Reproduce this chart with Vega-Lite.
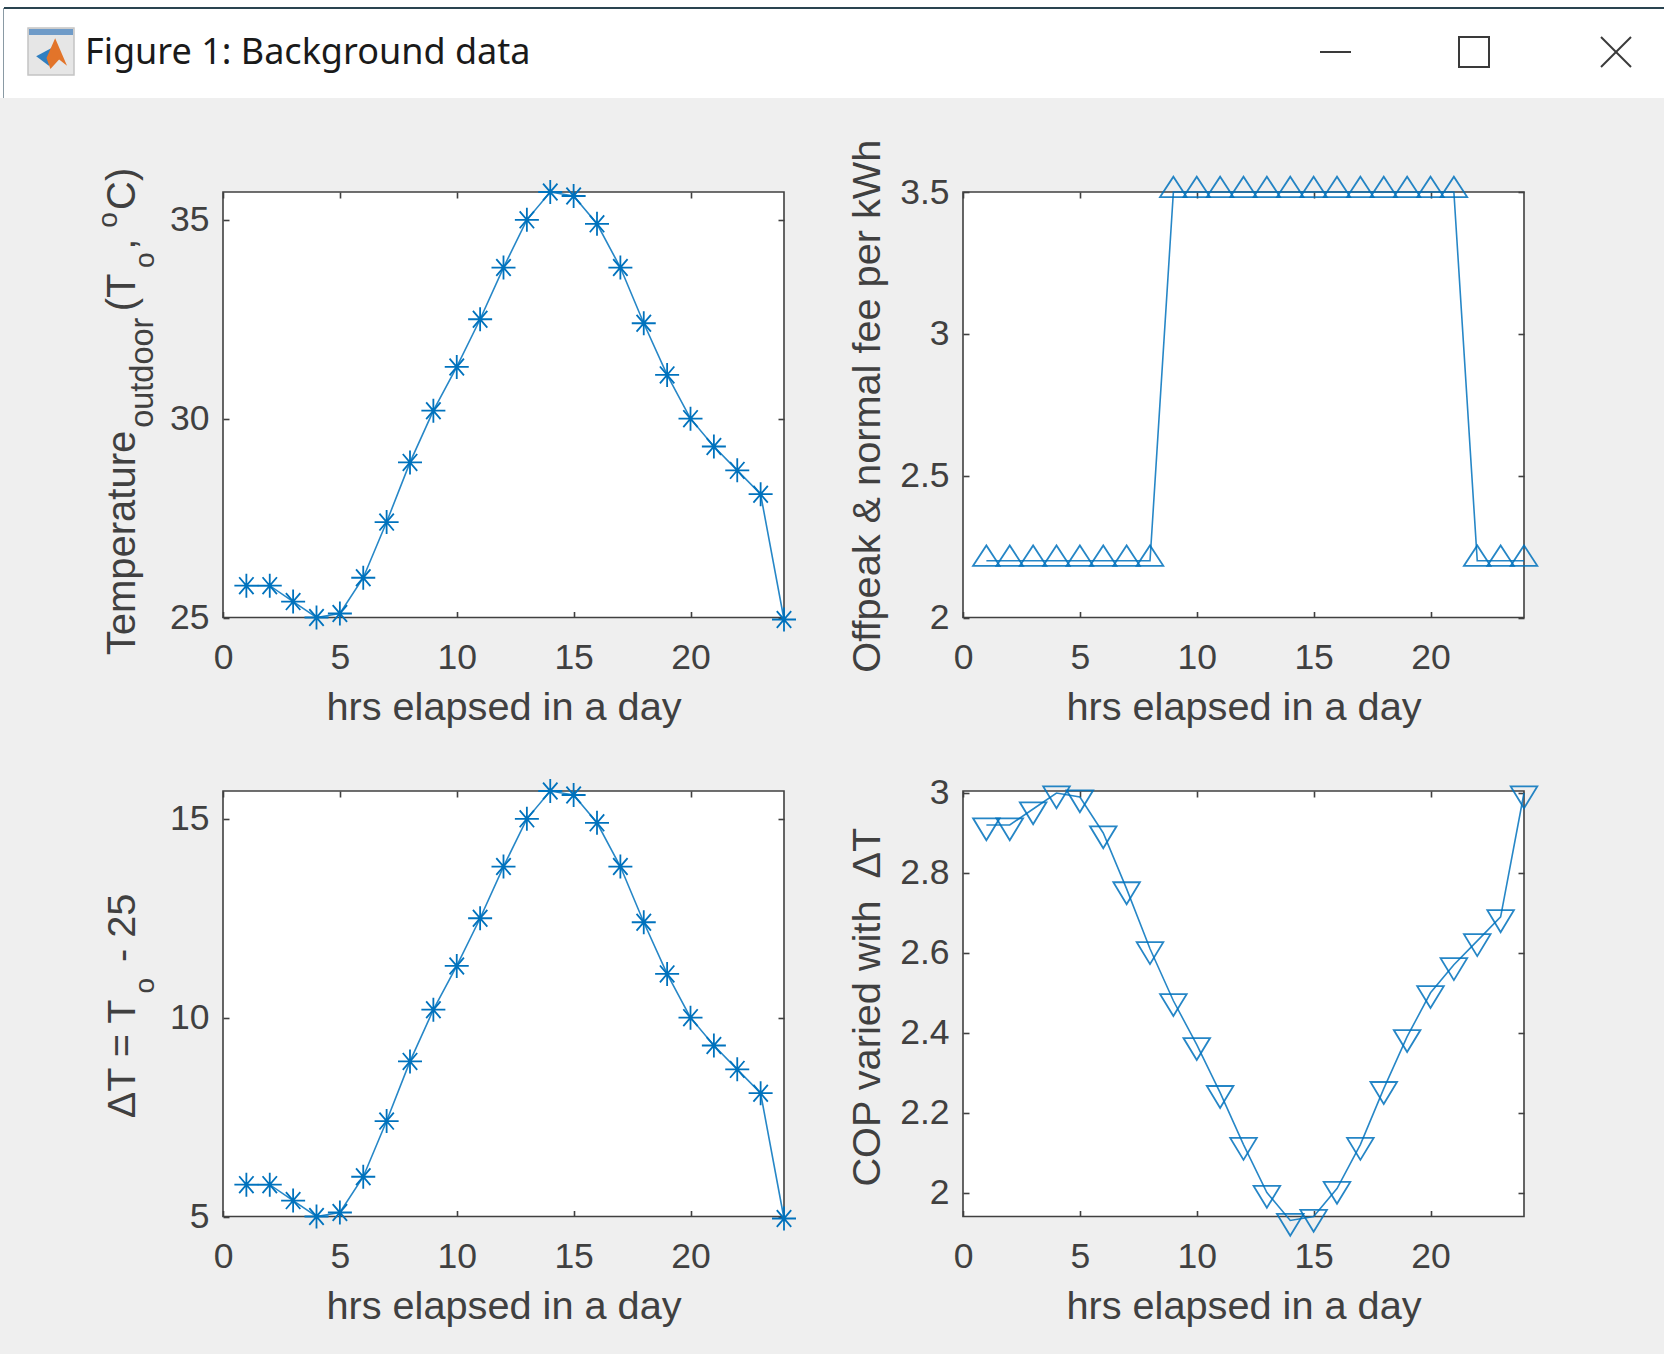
{"$schema":"https://vega.github.io/schema/vega-lite/v6.json","background":"#efefef","padding":0,"spacing":0,
"config":{"view":{"fill":"white","stroke":"#404040","strokeWidth":1.6},
"axis":{"grid":false,"domain":false,"labelFont":"Liberation Sans","labelFontSize":35.5,"labelColor":"#404040","titleFont":"Liberation Sans","titleFontSize":39.7,"titleFontWeight":"normal","titleColor":"#404040","tickColor":"#404040","tickWidth":1.6,"tickSize":-6,"labelFlush":false,"labelOverlap":false}},
"datasets":{
"temp":[{"hour":1,"value":25.8},{"hour":2,"value":25.8},{"hour":3,"value":25.4},{"hour":4,"value":25.0},{"hour":5,"value":25.1},{"hour":6,"value":26.0},{"hour":7,"value":27.4},{"hour":8,"value":28.9},{"hour":9,"value":30.2},{"hour":10,"value":31.3},{"hour":11,"value":32.5},{"hour":12,"value":33.8},{"hour":13,"value":35.0},{"hour":14,"value":35.7},{"hour":15,"value":35.6},{"hour":16,"value":34.9},{"hour":17,"value":33.8},{"hour":18,"value":32.4},{"hour":19,"value":31.1},{"hour":20,"value":30.0},{"hour":21,"value":29.3},{"hour":22,"value":28.7},{"hour":23,"value":28.1},{"hour":24,"value":24.95}],
"fee":[{"hour":1,"value":2.2},{"hour":2,"value":2.2},{"hour":3,"value":2.2},{"hour":4,"value":2.2},{"hour":5,"value":2.2},{"hour":6,"value":2.2},{"hour":7,"value":2.2},{"hour":8,"value":2.2},{"hour":9,"value":3.5},{"hour":10,"value":3.5},{"hour":11,"value":3.5},{"hour":12,"value":3.5},{"hour":13,"value":3.5},{"hour":14,"value":3.5},{"hour":15,"value":3.5},{"hour":16,"value":3.5},{"hour":17,"value":3.5},{"hour":18,"value":3.5},{"hour":19,"value":3.5},{"hour":20,"value":3.5},{"hour":21,"value":3.5},{"hour":22,"value":2.2},{"hour":23,"value":2.2},{"hour":24,"value":2.2}],
"dt":[{"hour":1,"value":5.8},{"hour":2,"value":5.8},{"hour":3,"value":5.4},{"hour":4,"value":5.0},{"hour":5,"value":5.1},{"hour":6,"value":6.0},{"hour":7,"value":7.4},{"hour":8,"value":8.9},{"hour":9,"value":10.2},{"hour":10,"value":11.3},{"hour":11,"value":12.5},{"hour":12,"value":13.8},{"hour":13,"value":15.0},{"hour":14,"value":15.7},{"hour":15,"value":15.6},{"hour":16,"value":14.9},{"hour":17,"value":13.8},{"hour":18,"value":12.4},{"hour":19,"value":11.1},{"hour":20,"value":10.0},{"hour":21,"value":9.3},{"hour":22,"value":8.7},{"hour":23,"value":8.1},{"hour":24,"value":4.95}],
"cop":[{"hour":1,"value":2.92},{"hour":2,"value":2.92},{"hour":3,"value":2.96},{"hour":4,"value":3.0},{"hour":5,"value":2.99},{"hour":6,"value":2.9},{"hour":7,"value":2.76},{"hour":8,"value":2.61},{"hour":9,"value":2.48},{"hour":10,"value":2.37},{"hour":11,"value":2.25},{"hour":12,"value":2.12},{"hour":13,"value":2.0},{"hour":14,"value":1.93},{"hour":15,"value":1.94},{"hour":16,"value":2.01},{"hour":17,"value":2.12},{"hour":18,"value":2.26},{"hour":19,"value":2.39},{"hour":20,"value":2.5},{"hour":21,"value":2.57},{"hour":22,"value":2.63},{"hour":23,"value":2.69},{"hour":24,"value":3.0}]
},
"vconcat":[
{"width":1664,"height":98,"view":{"fill":"white","stroke":null},
 "layer":[
  {"data":{"values":[{"px":4,"px2":1664,"py":8}]},"mark":{"type":"rule","color":"#2a4450","strokeWidth":2},"encoding":{"x":{"field":"px","type":"quantitative","scale":{"domain":[0,1664],"nice":false},"axis":null},"x2":{"field":"px2"},"y":{"field":"py","type":"quantitative","scale":{"domain":[98,0],"nice":false},"axis":null}}},
  {"data":{"values":[{"px":3.5,"py":8,"py2":98}]},"mark":{"type":"rule","color":"#8a9aa4","strokeWidth":1},"encoding":{"x":{"field":"px","type":"quantitative","axis":null},"y":{"field":"py","type":"quantitative","axis":null},"y2":{"field":"py2"}}},
  {"data":{"values":[{"px":28,"px2":74,"py":28,"py2":75}]},"mark":{"type":"rect","fill":"#e6e6e6","stroke":"#c4c4c4","strokeWidth":1.5},"encoding":{"x":{"field":"px","type":"quantitative","axis":null},"x2":{"field":"px2"},"y":{"field":"py","type":"quantitative","axis":null},"y2":{"field":"py2"}}},
  {"data":{"values":[{"px":29,"px2":73,"py":29,"py2":35}]},"mark":{"type":"rect","fill":"#6f9bc8"},"encoding":{"x":{"field":"px","type":"quantitative","axis":null},"x2":{"field":"px2"},"y":{"field":"py","type":"quantitative","axis":null},"y2":{"field":"py2"}}},
  {"data":{"values":[{"px":52,"py":54}]},"mark":{"type":"point","filled":true,"opacity":1,"fill":"#2f7fc1","size":1000,"shape":"M-1,0.15 L0,-0.4 L0.1,0.3 L-0.2,0.75 Z"},"encoding":{"x":{"field":"px","type":"quantitative","axis":null},"y":{"field":"py","type":"quantitative","axis":null}}},
  {"data":{"values":[{"px":52,"py":54}]},"mark":{"type":"point","filled":true,"opacity":1,"fill":"#e2742a","size":1000,"shape":"M0.2,-1 L0.95,0.75 L0.45,0.35 L-0.1,0.95 L-0.35,0.25 Z"},"encoding":{"x":{"field":"px","type":"quantitative","axis":null},"y":{"field":"py","type":"quantitative","axis":null}}},
  {"data":{"values":[{"label":"Figure 1: Background data","px":85,"py":52.5}]},"mark":{"type":"text","font":"Noto Sans","fontSize":36,"color":"#1a1a1a","align":"left","baseline":"middle"},"encoding":{"x":{"field":"px","type":"quantitative","axis":null},"y":{"field":"py","type":"quantitative","axis":null},"text":{"field":"label"}}},
  {"data":{"values":[{"px":1320,"px2":1351,"py":52,"py2":52},{"px":1601,"px2":1631,"py":37,"py2":67},{"px":1601,"px2":1631,"py":67,"py2":37}]},"mark":{"type":"rule","color":"#3a3a3a","strokeWidth":2},"encoding":{"x":{"field":"px","type":"quantitative","axis":null},"x2":{"field":"px2"},"y":{"field":"py","type":"quantitative","axis":null},"y2":{"field":"py2"}}},
  {"data":{"values":[{"px":1459,"px2":1489,"py":37,"py2":67}]},"mark":{"type":"rect","fill":"white","stroke":"#3a3a3a","strokeWidth":2},"encoding":{"x":{"field":"px","type":"quantitative","axis":null},"x2":{"field":"px2"},"y":{"field":"py","type":"quantitative","axis":null},"y2":{"field":"py2"}}}
 ]},
{"width":1664,"height":38.8,"view":{"fill":"#efefef","stroke":null},"data":{"values":[]},"mark":"point","encoding":{}},
{"bounds":"flush","spacing":179,"hconcat":[
  {"width":44,"height":425.5,"view":{"fill":"#efefef","stroke":null},"data":{"values":[]},"mark":"point","encoding":{}},
  {"width":561,"height":425.5,"layer":[
   {"data":{"name":"temp"},"mark":{"type":"line","color":"#0072BD","strokeWidth":1.6,"opacity":0.85},"encoding":{"x":{"field":"hour","type":"quantitative","scale":{"domain":[0,24],"nice":false},"axis":{"values":[0,5,10,15,20],"title":"hrs elapsed in a day","labelPadding":29,"titlePadding":12}},"y":{"field":"value","type":"quantitative","scale":{"domain":[25,35.7],"nice":false,"zero":false},"axis":{"values":[25,30,35],"title":null,"labelPadding":20}}}},
   {"data":{"name":"temp"},"mark":{"type":"point","filled":false,"color":"#0072BD","opacity":1,"strokeWidth":1.8,"size":576,"shape":"M0,-1L0,1M-1,0L1,0M-0.6,-0.7L0.6,0.7M-0.6,0.7L0.6,-0.7"},"encoding":{"x":{"field":"hour","type":"quantitative","axis":{"orient":"top","values":[0,5,10,15,20],"labels":false,"title":null}},"y":{"field":"value","type":"quantitative","axis":{"orient":"right","values":[25,30,35],"labels":false,"title":null}}}},
   {"data":{"values":[{"label":"Temperature","hour":-3.77,"value":24.05},{"label":"(T","hour":-3.77,"value":32.7},{"label":",","hour":-3.77,"value":34.25},{"label":"C)","hour":-3.77,"value":35.25}]},"mark":{"type":"text","font":"Liberation Sans","fontSize":40,"color":"#404040","angle":270,"align":"left","baseline":"alphabetic"},"encoding":{"x":{"field":"hour","type":"quantitative","axis":null},"y":{"field":"value","type":"quantitative","axis":null},"text":{"field":"label"}}},
   {"data":{"values":[{"label":"outdoor","hour":-3.0,"value":29.77}]},"mark":{"type":"text","font":"Liberation Sans","fontSize":32.5,"color":"#404040","angle":270,"align":"left","baseline":"alphabetic"},"encoding":{"x":{"field":"hour","type":"quantitative","axis":null},"y":{"field":"value","type":"quantitative","axis":null},"text":{"field":"label"}}},
   {"data":{"values":[{"label":"o","hour":-2.95,"value":33.79},{"label":"o","hour":-4.53,"value":34.8}]},"mark":{"type":"text","font":"Liberation Sans","fontSize":28,"color":"#404040","angle":270,"align":"left","baseline":"alphabetic"},"encoding":{"x":{"field":"hour","type":"quantitative","axis":null},"y":{"field":"value","type":"quantitative","axis":null},"text":{"field":"label"}}}
  ],"resolve":{"axis":{"x":"independent","y":"independent"}}},
  {"width":561,"height":425.5,"layer":[
   {"data":{"name":"fee"},"mark":{"type":"line","color":"#0072BD","strokeWidth":1.6,"opacity":0.85},"encoding":{"x":{"field":"hour","type":"quantitative","scale":{"domain":[0,24],"nice":false},"axis":{"values":[0,5,10,15,20],"title":"hrs elapsed in a day","labelPadding":29,"titlePadding":12}},"y":{"field":"value","type":"quantitative","scale":{"domain":[2,3.5],"nice":false,"zero":false},"axis":{"values":[2,2.5,3,3.5],"title":null,"labelPadding":20,"labelExpr":"datum.value"}}}},
   {"data":{"name":"fee"},"mark":{"type":"point","filled":false,"color":"#0072BD","opacity":0.85,"strokeWidth":1.8,"size":708,"shape":"M-1,0.38L0,-1.15L1,0.38Z"},"encoding":{"x":{"field":"hour","type":"quantitative","axis":{"orient":"top","values":[0,5,10,15,20],"labels":false,"title":null}},"y":{"field":"value","type":"quantitative","axis":{"orient":"right","values":[2,2.5,3,3.5],"labels":false,"title":null}}}},
   {"data":{"values":[{"label":"Offpeak & normal fee per kWh","hour":-3.53,"value":2.745}]},"mark":{"type":"text","font":"Liberation Sans","fontSize":39.7,"color":"#404040","angle":270,"align":"center","baseline":"alphabetic"},"encoding":{"x":{"field":"hour","type":"quantitative","axis":null},"y":{"field":"value","type":"quantitative","axis":null},"text":{"field":"label"}}}
  ],"resolve":{"axis":{"x":"independent","y":"independent"}}}
]},
{"width":1664,"height":45.5,"view":{"fill":"#efefef","stroke":null},"data":{"values":[]},"mark":"point","encoding":{}},
{"bounds":"flush","spacing":179,"hconcat":[
  {"width":44,"height":425.5,"view":{"fill":"#efefef","stroke":null},"data":{"values":[]},"mark":"point","encoding":{}},
  {"width":561,"height":425.5,"layer":[
   {"data":{"name":"dt"},"mark":{"type":"line","color":"#0072BD","strokeWidth":1.6,"opacity":0.85},"encoding":{"x":{"field":"hour","type":"quantitative","scale":{"domain":[0,24],"nice":false},"axis":{"values":[0,5,10,15,20],"title":"hrs elapsed in a day","labelPadding":29,"titlePadding":12}},"y":{"field":"value","type":"quantitative","scale":{"domain":[5,15.7],"nice":false,"zero":false},"axis":{"values":[5,10,15],"title":null,"labelPadding":20}}}},
   {"data":{"name":"dt"},"mark":{"type":"point","filled":false,"color":"#0072BD","opacity":1,"strokeWidth":1.8,"size":576,"shape":"M0,-1L0,1M-1,0L1,0M-0.6,-0.7L0.6,0.7M-0.6,0.7L0.6,-0.7"},"encoding":{"x":{"field":"hour","type":"quantitative","axis":{"orient":"top","values":[0,5,10,15,20],"labels":false,"title":null}},"y":{"field":"value","type":"quantitative","axis":{"orient":"right","values":[5,10,15],"labels":false,"title":null}}}},
   {"data":{"values":[{"label":"ΔT = T","hour":-3.77,"value":7.47},{"label":"- 25","hour":-3.77,"value":11.4}]},"mark":{"type":"text","font":"Liberation Sans","fontSize":39.7,"color":"#404040","angle":270,"align":"left","baseline":"alphabetic"},"encoding":{"x":{"field":"hour","type":"quantitative","axis":null},"y":{"field":"value","type":"quantitative","axis":null},"text":{"field":"label"}}},
   {"data":{"values":[{"label":"o","hour":-2.95,"value":10.61}]},"mark":{"type":"text","font":"Liberation Sans","fontSize":28,"color":"#404040","angle":270,"align":"left","baseline":"alphabetic"},"encoding":{"x":{"field":"hour","type":"quantitative","axis":null},"y":{"field":"value","type":"quantitative","axis":null},"text":{"field":"label"}}}
  ],"resolve":{"axis":{"x":"independent","y":"independent"}}},
  {"width":561,"height":425.5,"layer":[
   {"data":{"name":"cop"},"mark":{"type":"line","color":"#0072BD","strokeWidth":1.6,"opacity":0.85},"encoding":{"x":{"field":"hour","type":"quantitative","scale":{"domain":[0,24],"nice":false},"axis":{"values":[0,5,10,15,20],"title":"hrs elapsed in a day","labelPadding":29,"titlePadding":12}},"y":{"field":"value","type":"quantitative","scale":{"domain":[1.94,3.005],"nice":false,"zero":false},"axis":{"values":[2,2.2,2.4,2.6,2.8,3],"title":null,"labelPadding":20,"labelExpr":"datum.value"}}}},
   {"data":{"name":"cop"},"mark":{"type":"point","filled":false,"color":"#0072BD","opacity":0.85,"strokeWidth":1.8,"size":708,"shape":"M-1,-0.5L1,-0.5L0,1.15Z"},"encoding":{"x":{"field":"hour","type":"quantitative","axis":{"orient":"top","values":[0,5,10,15,20],"labels":false,"title":null}},"y":{"field":"value","type":"quantitative","axis":{"orient":"right","values":[2,2.2,2.4,2.6,2.8,3],"labels":false,"title":null}}}},
   {"data":{"values":[{"label":"COP varied with\u00a0 ΔT","hour":-3.53,"value":2.464}]},"mark":{"type":"text","font":"Liberation Sans","fontSize":39.7,"color":"#404040","angle":270,"align":"center","baseline":"alphabetic"},"encoding":{"x":{"field":"hour","type":"quantitative","axis":null},"y":{"field":"value","type":"quantitative","axis":null},"text":{"field":"label"}}}
  ],"resolve":{"axis":{"x":"independent","y":"independent"}}}
]},
{"width":1664,"height":37,"view":{"fill":"#efefef","stroke":null},"data":{"values":[]},"mark":"point","encoding":{}}
]}
